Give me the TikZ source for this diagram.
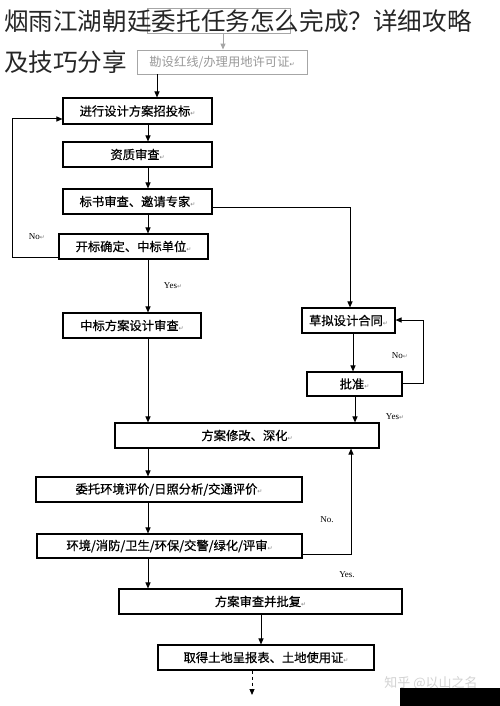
\documentclass[tikz,border=0pt]{standalone}
\usepackage{fontspec}
\setmainfont{Liberation Serif}
\newfontfamily\cjk{Noto Sans CJK SC}
\newfontfamily\cjkb[FakeBold=0.6]{Noto Sans CJK SC}
\newfontfamily\symf{DejaVu Sans}
\usetikzlibrary{arrows.meta}
\newcommand\retmark{{\symf\fontsize{6}{6}\selectfont\textcolor{gray}{↵}}}
\begin{document}
\begin{tikzpicture}[x=1pt,y=-1pt,
  box/.style={draw, line width=1.1pt, inner sep=0pt, font=\cjkb\fontsize{12.3}{14}\selectfont},
  gbox/.style={draw=gray!70, line width=0.9pt, inner sep=0pt, text=gray!80, font=\cjk\fontsize{12.3}{14}\selectfont},
  arr/.style={line width=1pt, -{Triangle[length=6pt,width=5pt]}},
  garr/.style={line width=1pt, draw=gray!70, -{Triangle[length=6pt,width=5pt]}, gray!70},
  lbl/.style={font=\fontsize{9}{10}\selectfont, inner sep=0pt},
  ttl/.style={anchor=west, inner sep=0pt, text=black!85, font=\cjk\fontsize{24.6}{26}\selectfont}]
\useasboundingbox (0,0) rectangle (500,706);
\fill[white] (0,0) rectangle (500,706);
% coordinates for vertical lines
\coordinate (xa) at (148,0);
\coordinate (xt) at (157,0);
\coordinate (xg) at (223,0);
\coordinate (xr) at (353,0);
\coordinate (xs) at (355,0);
\coordinate (xn) at (351,0);
\coordinate (xb) at (261,0);
\coordinate (xd) at (252,0);
% boxes
\node[gbox, minimum width=143pt, minimum height=25pt] (g1) at (218.5,20.5) {};
\node[gbox, minimum width=170pt, minimum height=24pt] (g2) at (222,62) {勘设红线/办理用地许可证\retmark};
\node[box, minimum width=149pt, minimum height=26pt] (b1) at (137.5,111) {进行设计方案招投标\retmark};
\node[box, minimum width=149pt, minimum height=25pt] (b2) at (137.5,154.5) {资质审查\retmark};
\node[box, minimum width=149pt, minimum height=25pt] (b3) at (137.5,201.5) {标书审查、邀请专家\retmark};
\node[box, minimum width=149pt, minimum height=25pt] (b4) at (133.5,246.5) {开标确定、中标单位\retmark};
\node[box, minimum width=138pt, minimum height=25pt] (b5) at (132,325.5) {中标方案设计审查\retmark};
\node[box, minimum width=93pt, minimum height=25pt] (r1) at (348.5,320.5) {草拟设计合同\retmark};
\node[box, minimum width=95pt, minimum height=24pt] (r2) at (354.5,384) {批准\retmark};
\node[box, minimum width=264pt, minimum height=25pt] (b6) at (247,435.5) {方案修改、深化\retmark};
\node[box, minimum width=266pt, minimum height=25pt] (b7) at (169,489.5) {委托环境评价/日照分析/交通评价\retmark};
\node[box, minimum width=265pt, minimum height=24pt] (b8) at (169.5,546) {环境/消防/卫生/环保/交警/绿化/评审\retmark};
\node[box, minimum width=283pt, minimum height=25pt] (b9) at (260.5,601.5) {方案审查并批复\retmark};
\node[box, minimum width=216pt, minimum height=25pt] (b10) at (266,657.5) {取得土地呈报表、土地使用证\retmark};
\coordinate (dend) at (252,695);
% connectors
\draw[garr] (g1.south -| xg) -- (g2.north -| xg);
\draw[arr] (g2.south -| xt) -- (b1.north -| xt);
\draw[arr] (b1.south -| xa) -- (b2.north -| xa);
\draw[arr] (b2.south -| xa) -- (b3.north -| xa);
\draw[arr] (b3.south -| xa) -- (b4.north -| xa);
\draw[arr] (b4.south -| xa) -- (b5.north -| xa);
\draw[arr] (b5.south -| xa) -- (b6.north -| xa);
\draw[arr] (b6.south -| xa) -- (b7.north -| xa);
\draw[arr] (b7.south -| xa) -- (b8.north -| xa);
\draw[arr] (b8.south -| xa) -- (b9.north -| xa);
\draw[arr] (b9.south -| xb) -- (b10.north -| xb);
\draw[arr, dashed] (b10.south -| xd) -- (dend);
\draw[arr] (b4.west |- 0,257) -- (12,257) -- (12,119) -- (b1.west |- 0,119);
\draw[arr] (b3.east |- 0,207) -- (350,207) -- (r1.north -| 350,0);
\draw[arr] (r1.south -| xr) -- (r2.north -| xr);
\draw[arr] (r2.east |- 0,383) -- (423,383) -- (423,320) -- (r1.east |- 0,320);
\draw[arr] (r2.south -| xs) -- (b6.north -| xs);
\draw[arr] (b8.east |- 0,554) -- (351,554) -- (b6.south -| xn);
% labels
\node[lbl] (l1) at (37,237) {No\retmark};
\node[lbl] (l2) at (173,286) {Yes\retmark};
\node[lbl] (l3) at (400,356) {No\retmark};
\node[lbl] (l4) at (395,417) {Yes\retmark};
\node[lbl] (l5) at (327,520) {No.};
\node[lbl] (l6) at (347,575) {Yes.};
% watermark and artefact
\node[inner sep=0pt, text=gray!35, font=\cjk\fontsize{13}{14}\selectfont] (wm) at (431,683) {知乎 @以山之名};
\fill[black] (400,688) rectangle (500,706);
% title
\node[ttl] (t1) at (4,21) {烟雨江湖朝廷委托任务怎么完成？详细攻略};
\node[ttl] (t2) at (4,62) {及技巧分享};
\end{tikzpicture}
\end{document}
